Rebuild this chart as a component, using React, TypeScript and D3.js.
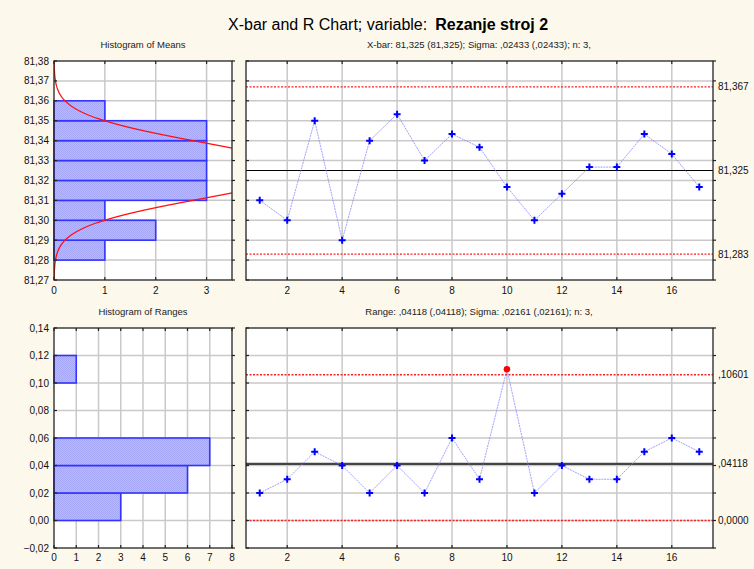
import { useEffect, useRef } from "react";
import * as d3 from "d3";

// sample numbers and per-sample statistics (n = 3)
const samples = [1, 2, 3, 4, 5, 6, 7, 8, 9, 10, 11, 12, 13, 14, 15, 16, 17];
const means = [
  81.31, 81.3, 81.35, 81.29, 81.34, 81.3533, 81.33, 81.3433, 81.3367, 81.3167,
  81.3, 81.3133, 81.3267, 81.3267, 81.3433, 81.3333, 81.3167,
];
const ranges = [
  0.02, 0.03, 0.05, 0.04, 0.02, 0.04, 0.02, 0.06, 0.03, 0.11, 0.02, 0.04, 0.03,
  0.03, 0.05, 0.06, 0.05,
];

// histograms (bin lower edge, count)
const meanBinLows = [81.28, 81.29, 81.3, 81.31, 81.32, 81.33, 81.34, 81.35];
const meanBinCounts = [1, 2, 1, 3, 3, 3, 3, 1];
const meanBinWidth = 0.01;
const rangeBinLows = [0, 0.02, 0.04, 0.1];
const rangeBinCounts = [3, 6, 7, 1];
const rangeBinWidth = 0.02;

// control limits
const xbarLimits = [81.283, 81.325, 81.367];
const xbarLimitLabels = ["81,283", "81,325", "81,367"];
const rangeLimits = [0, 0.04118, 0.10601];
const rangeLimitLabels = ["0,0000", ",04118", ",10601"];
const xbarCenter = 81.325;
const sigma = 0.02433;
const n = 3;

// axis ticks
const meanTicks = [81.27, 81.28, 81.29, 81.3, 81.31, 81.32, 81.33, 81.34, 81.35, 81.36, 81.37, 81.38];
const rangeTicks = [-0.02, 0, 0.02, 0.04, 0.06, 0.08, 0.1, 0.12, 0.14];
const meanHistTicks = [0, 1, 2, 3];
const rangeHistTicks = [0, 1, 2, 3, 4, 5, 6, 7, 8];
const sampleTicks = [2, 4, 6, 8, 10, 12, 14, 16];

const W = 754;
const H = 569;
const FONT = "'Liberation Sans', Arial, sans-serif";
const comma = (f: string) => (v: number) => d3.format(f)(v).replace(".", ",");

type G = d3.Selection<SVGGElement, unknown, null, undefined>;

function panel(
  g: G,
  x: d3.ScaleLinear<number, number>,
  y: d3.ScaleLinear<number, number>,
  xTicks: number[],
  yTicks: number[]
) {
  const [x0, x1] = x.range();
  const [y1, y0] = y.range();
  g.append("rect")
    .attr("x", x0)
    .attr("y", y0)
    .attr("width", x1 - x0)
    .attr("height", y1 - y0)
    .attr("fill", "#ffffff");
  g.append("g")
    .selectAll("line")
    .data(xTicks.filter((d) => x(d) > x0 + 1 && x(d) < x1 - 1))
    .join("line")
    .attr("x1", (d) => x(d))
    .attr("x2", (d) => x(d))
    .attr("y1", y0)
    .attr("y2", y1)
    .attr("stroke", "#c9c9c9")
    .attr("stroke-width", 1.5);
  g.append("g")
    .selectAll("line")
    .data(yTicks.filter((d) => y(d) > y0 + 1 && y(d) < y1 - 1))
    .join("line")
    .attr("x1", x0)
    .attr("x2", x1)
    .attr("y1", (d) => y(d))
    .attr("y2", (d) => y(d))
    .attr("stroke", "#c9c9c9")
    .attr("stroke-width", 1.5);
}

function frame(
  g: G,
  x: d3.ScaleLinear<number, number>,
  y: d3.ScaleLinear<number, number>,
  xTicks: number[],
  yTicks: number[],
  rightTicks: boolean
) {
  const [x0, x1] = x.range();
  const [y1, y0] = y.range();
  const tk = g.append("g").attr("stroke", "#222").attr("stroke-width", 1.2);
  xTicks.forEach((d) => {
    tk.append("line").attr("x1", x(d)).attr("x2", x(d)).attr("y1", y1).attr("y2", y1 - 3);
    tk.append("line").attr("x1", x(d)).attr("x2", x(d)).attr("y1", y0).attr("y2", y0 + 3);
  });
  yTicks.forEach((d) => {
    tk.append("line").attr("x1", x0).attr("x2", x0 + 3).attr("y1", y(d)).attr("y2", y(d));
    if (rightTicks)
      tk.append("line").attr("x1", x1).attr("x2", x1 + 3).attr("y1", y(d)).attr("y2", y(d));
  });
  g.append("rect")
    .attr("x", x0)
    .attr("y", y0)
    .attr("width", x1 - x0)
    .attr("height", y1 - y0)
    .attr("fill", "none")
    .attr("stroke", "#222")
    .attr("stroke-width", 1.3);
}

function labels(
  g: G,
  x: d3.ScaleLinear<number, number>,
  y: d3.ScaleLinear<number, number>,
  xTicks: number[],
  yTicks: number[] | null,
  yFmt: (v: number) => string,
  xLabelY: number
) {
  const [x0] = x.range();
  g.append("g")
    .selectAll("text")
    .data(xTicks)
    .join("text")
    .attr("x", (d) => x(d))
    .attr("y", xLabelY)
    .attr("text-anchor", "middle")
    .style("font-family", FONT)
    .style("font-size", "10px")
    .attr("fill", "#111")
    .text((d) => String(d));
  if (yTicks)
    g.append("g")
      .selectAll("text")
      .data(yTicks)
      .join("text")
      .attr("x", x0 - 5)
      .attr("y", (d) => y(d) + 3.5)
      .attr("text-anchor", "end")
      .style("font-family", FONT)
      .style("font-size", "10px")
      .attr("fill", "#111")
      .text((d) => yFmt(d));
}

function subtitle(g: G, x: number, y: number, t: string) {
  g.append("text")
    .attr("x", x)
    .attr("y", y)
    .attr("text-anchor", "middle")
    .style("font-family", FONT)
    .style("font-size", "9.5px")
    .attr("fill", "#222")
    .text(t);
}

export default function App() {
  const ref = useRef<SVGSVGElement>(null);

  useEffect(() => {
    if (!ref.current) return;
    const root = d3.select(ref.current);
    root.selectAll("*").remove();
    root.append("rect").attr("width", W).attr("height", H).attr("fill", "#fdf8ec");

    const defs = root.append("defs");
    const pat = defs
      .append("pattern")
      .attr("id", "hatch")
      .attr("width", 2)
      .attr("height", 2)
      .attr("patternUnits", "userSpaceOnUse");
    pat.append("rect").attr("width", 2).attr("height", 2).attr("fill", "#b9b9ff");
    pat.append("rect").attr("width", 1).attr("height", 1).attr("fill", "#a6a6f6");
    pat.append("rect").attr("x", 1).attr("y", 1).attr("width", 1).attr("height", 1).attr("fill", "#a6a6f6");

    const svg = root.append("g") as G;

    const title = svg
      .append("text")
      .attr("x", 228)
      .attr("y", 30)
      .style("font-family", FONT)
      .style("font-size", "16px")
      .attr("fill", "#000");
    title.append("tspan").text("X-bar and R Chart; variable:");
    title.append("tspan").attr("dx", 8).attr("font-weight", "bold").text("Rezanje stroj 2");

    // scales
    const yMean = d3.scaleLinear().domain([81.27, 81.38]).range([280, 61]);
    const xMeanHist = d3.scaleLinear().domain([0, 3.5]).range([54, 232]);
    const xTop = d3.scaleLinear().domain([0.5, 17.5]).range([246, 713]);
    const yRange = d3.scaleLinear().domain([-0.02, 0.14]).range([548, 328]);
    const xRangeHist = d3.scaleLinear().domain([0, 8]).range([54, 232]);
    const xBot = d3.scaleLinear().domain([0.5, 17.5]).range([246, 713]);

    // ---------- Histogram of Means ----------
    subtitle(svg, 143, 48, "Histogram of Means");
    panel(svg, xMeanHist, yMean, meanHistTicks, meanTicks);
    svg
      .append("g")
      .selectAll("rect")
      .data(meanBinLows)
      .join("rect")
      .attr("x", xMeanHist(0))
      .attr("y", (d) => yMean(d + meanBinWidth))
      .attr("width", (_, i) => xMeanHist(meanBinCounts[i]) - xMeanHist(0))
      .attr("height", (d) => yMean(d) - yMean(d + meanBinWidth))
      .attr("fill", "url(#hatch)")
      .attr("stroke", "#3434ff")
      .attr("stroke-width", 1.6);

    // fitted normal curve, sigma of means = sigma / sqrt(n)
    const sdMean = sigma / Math.sqrt(n);
    const total = means.length;
    const curveY = d3.range(81.27, 81.3801, 0.0005);
    const expected = (v: number) =>
      (total * meanBinWidth * Math.exp(-((v - xbarCenter) ** 2) / (2 * sdMean * sdMean))) /
      (sdMean * Math.sqrt(2 * Math.PI));
    defs
      .append("clipPath")
      .attr("id", "clipMean")
      .append("rect")
      .attr("x", 54)
      .attr("y", 61)
      .attr("width", 178)
      .attr("height", 219);
    svg
      .append("path")
      .datum(curveY)
      .attr("clip-path", "url(#clipMean)")
      .attr("fill", "none")
      .attr("stroke", "#ff1010")
      .attr("stroke-width", 1.3)
      .attr(
        "d",
        d3
          .line<number>()
          .x((d) => xMeanHist(expected(d)))
          .y((d) => yMean(d))
      );
    frame(svg, xMeanHist, yMean, meanHistTicks, meanTicks, true);
    labels(svg, xMeanHist, yMean, meanHistTicks, meanTicks, comma(".2f"), 294);

    // ---------- X-bar chart ----------
    subtitle(svg, 479, 48, "X-bar: 81,325 (81,325); Sigma: ,02433 (,02433); n: 3,");
    panel(svg, xTop, yMean, sampleTicks, meanTicks);
    svg
      .append("g")
      .selectAll("line")
      .data(xbarLimits)
      .join("line")
      .attr("x1", 246)
      .attr("x2", 713)
      .attr("y1", (d) => yMean(d))
      .attr("y2", (d) => yMean(d))
      .attr("stroke", (_, i) => (i === 1 ? "#000" : "#ff2020"))
      .attr("stroke-width", (_, i) => (i === 1 ? 1.2 : 1.3))
      .attr("stroke-dasharray", (_, i) => (i === 1 ? null : "2,1.5"));
    svg
      .append("path")
      .datum(samples)
      .attr("fill", "none")
      .attr("stroke", "#8080ff")
      .attr("stroke-width", 0.75)
      .attr("stroke-dasharray", "2,0.8")
      .attr(
        "d",
        d3
          .line<number>()
          .x((d) => xTop(d))
          .y((_, i) => yMean(means[i]))
      );
    svg
      .append("g")
      .selectAll("path")
      .data(samples)
      .join("path")
      .attr("transform", (d, i) => `translate(${xTop(d)},${yMean(means[i])})`)
      .attr("d", "M-3.5,0H3.5M0,-3.5V3.5")
      .attr("stroke", "#0000ff")
      .attr("stroke-width", 2);
    frame(svg, xTop, yMean, sampleTicks, meanTicks, true);
    labels(svg, xTop, yMean, sampleTicks, null, comma(".2f"), 294);
    svg
      .append("g")
      .selectAll("text")
      .data(xbarLimits)
      .join("text")
      .attr("x", 718)
      .attr("y", (d) => yMean(d) + 3.5)
      .style("font-family", FONT)
      .style("font-size", "10px")
      .attr("fill", "#111")
      .text((_, i) => xbarLimitLabels[i]);

    // ---------- Histogram of Ranges ----------
    subtitle(svg, 143, 315, "Histogram of Ranges");
    panel(svg, xRangeHist, yRange, rangeHistTicks, rangeTicks);
    svg
      .append("g")
      .selectAll("rect")
      .data(rangeBinLows)
      .join("rect")
      .attr("x", xRangeHist(0))
      .attr("y", (d) => yRange(d + rangeBinWidth))
      .attr("width", (_, i) => xRangeHist(rangeBinCounts[i]) - xRangeHist(0))
      .attr("height", (d) => yRange(d) - yRange(d + rangeBinWidth))
      .attr("fill", "url(#hatch)")
      .attr("stroke", "#3434ff")
      .attr("stroke-width", 1.6);
    frame(svg, xRangeHist, yRange, rangeHistTicks, rangeTicks, true);
    labels(svg, xRangeHist, yRange, rangeHistTicks, rangeTicks, comma(".2f"), 561);

    // ---------- Range chart ----------
    subtitle(svg, 479, 315, "Range: ,04118 (,04118); Sigma: ,02161 (,02161); n: 3,");
    panel(svg, xBot, yRange, sampleTicks, rangeTicks);
    svg
      .append("g")
      .selectAll("line")
      .data(rangeLimits)
      .join("line")
      .attr("x1", 246)
      .attr("x2", 713)
      .attr("y1", (d) => yRange(d))
      .attr("y2", (d) => yRange(d))
      .attr("stroke", (_, i) => (i === 1 ? "#444" : "#ff2020"))
      .attr("stroke-width", (_, i) => (i === 1 ? 2.2 : 1.3))
      .attr("stroke-dasharray", (_, i) => (i === 1 ? null : "2,1.5"));
    svg
      .append("path")
      .datum(samples)
      .attr("fill", "none")
      .attr("stroke", "#8080ff")
      .attr("stroke-width", 0.75)
      .attr("stroke-dasharray", "2,0.8")
      .attr(
        "d",
        d3
          .line<number>()
          .x((d) => xBot(d))
          .y((_, i) => yRange(ranges[i]))
      );
    const ucl = rangeLimits[2];
    svg
      .append("g")
      .selectAll("path")
      .data(samples.filter((_, i) => ranges[i] <= ucl))
      .join("path")
      .attr("transform", (d) => `translate(${xBot(d)},${yRange(ranges[d - 1])})`)
      .attr("d", "M-3.5,0H3.5M0,-3.5V3.5")
      .attr("stroke", "#0000ff")
      .attr("stroke-width", 2);
    svg
      .append("g")
      .selectAll("circle")
      .data(samples.filter((_, i) => ranges[i] > ucl))
      .join("circle")
      .attr("cx", (d) => xBot(d))
      .attr("cy", (d) => yRange(ranges[d - 1]))
      .attr("r", 3.3)
      .attr("fill", "#ff0000");
    frame(svg, xBot, yRange, sampleTicks, rangeTicks, true);
    labels(svg, xBot, yRange, sampleTicks, null, comma(".2f"), 561);
    svg
      .append("g")
      .selectAll("text")
      .data(rangeLimits)
      .join("text")
      .attr("x", 718)
      .attr("y", (d) => yRange(d) + 3.5)
      .style("font-family", FONT)
      .style("font-size", "10px")
      .attr("fill", "#111")
      .text((_, i) => rangeLimitLabels[i]);
  }, []);

  return (
    <svg
      ref={ref}
      width={W}
      height={H}
      style={{ position: "absolute", left: 0, top: 0, display: "block" }}
    />
  );
}
